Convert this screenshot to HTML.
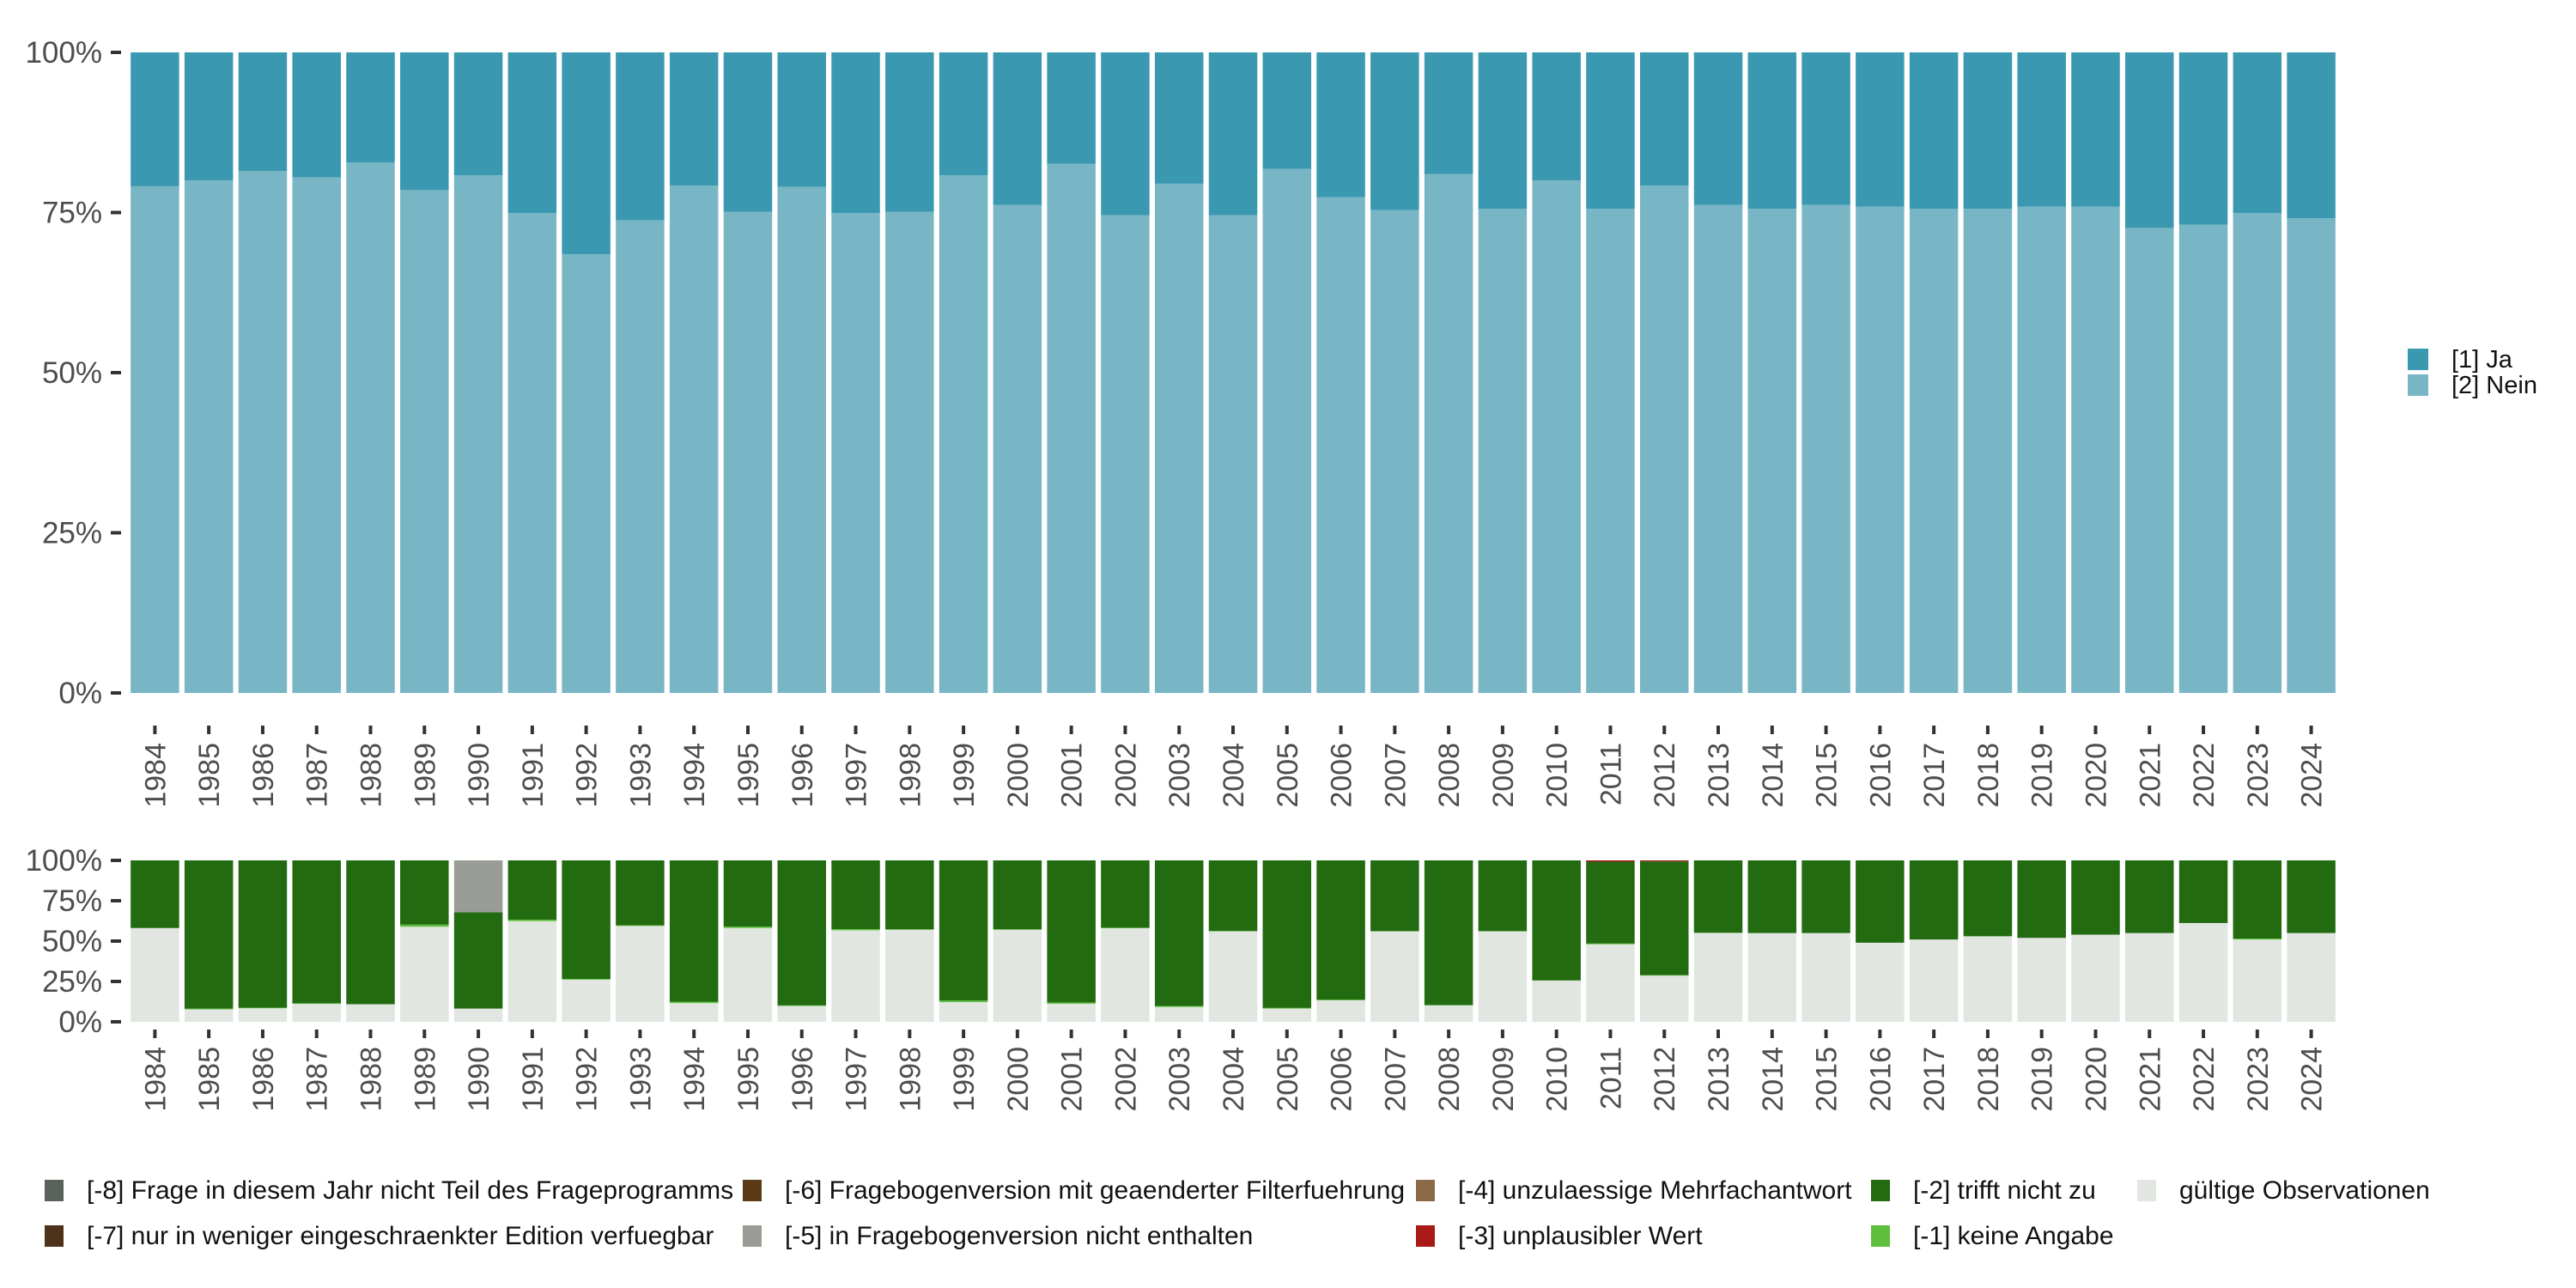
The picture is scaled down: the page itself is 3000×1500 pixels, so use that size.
<!DOCTYPE html>
<html><head><meta charset="utf-8"><style>
html,body{margin:0;padding:0;background:#fff;width:3000px;height:1500px;overflow:hidden}
svg{display:block;font-family:"Liberation Sans",sans-serif}
</style></head><body>
<svg id="chart" width="3000" height="1500" viewBox="0 0 3000 1500" xmlns="http://www.w3.org/2000/svg">
<g id="top"></g>
<g id="bottom"></g>
<g id="legends"></g>
</svg>
<script>
const years = [1984,1985,1986,1987,1988,1989,1990,1991,1992,1993,1994,1995,1996,1997,1998,1999,2000,2001,2002,2003,2004,2005,2006,2007,2008,2009,2010,2011,2012,2013,2014,2015,2016,2017,2018,2019,2020,2021,2022,2023,2024];
const neinPct = [79.1,80,81.5,80.5,82.8,78.5,80.8,74.9,68.5,73.8,79.2,75.1,79,74.9,75.1,80.8,76.2,82.6,74.6,79.5,74.6,81.8,77.4,75.4,81,75.6,80,75.6,79.2,76.2,75.6,76.2,75.9,75.6,75.6,75.9,75.9,72.6,73.1,74.9,74.1];
const validPct = [58.1,7.7,8.4,11.1,10.9,58.9,8.2,62.4,26.1,59.4,11.6,58.1,9.8,56.7,57,12.2,57,11.2,58,9.2,56,8.2,13.3,56,10.2,56,25.5,48,28.6,55,55,55,49,51,53,52,54,55,61.2,51,55];
const keineAngabePct = [0,0.5,0.4,0.4,0,1.3,0,0.9,0.5,0.4,0.9,0.9,0.4,0.7,0.3,1,0.3,0.8,0.3,0.6,0.3,0.4,0.5,0.2,0.2,0.2,0.2,0.5,0.3,0.2,0,0,0,0,0,0,0,0,0,0.6,0];
const unplausibelPct = [0,0,0,0,0,0,0,0,0,0,0,0,0,0,0,0,0,0,0,0,0,0,0,0,0,0,0,0.8,0.6,0,0,0,0,0,0,0,0,0,0,0,0];
const nichtEnthaltenPct = [0,0,0,0,0,0,32.2,0,0,0,0,0,0,0,0,0,0,0,0,0,0,0,0,0,0,0,0,0,0,0,0,0,0,0,0,0,0,0,0,0,0];
const yTicks = [0,25,50,75,100];
const yTickLabels = ["0%","25%","50%","75%","100%"];

const NS="http://www.w3.org/2000/svg";
function mk(tag,attrs,parent){const e=document.createElementNS(NS,tag);for(const k in attrs)e.setAttribute(k,attrs[k]);parent.appendChild(e);return e;}
const x0=149, slot=(2723-149)/41, bw=slot*0.9;
function xs(i){return x0+i*slot+(slot-bw)/2;}
function xc(i){return x0+i*slot+slot/2;}

function panel(g,yTop,yBot,stacksFn,name,tickY,labY){
  const ys=v=>yBot-(yBot-yTop)*v/100;
  years.forEach((yr,i)=>{
    let cum=0;
    stacksFn(i).forEach(s=>{
      if(s.v<=0)return;
      const r=mk('rect',{x:xs(i),y:ys(cum+s.v),width:bw,height:ys(cum)-ys(cum+s.v),fill:s.c},g);
      
      
      cum+=s.v;
    });
    const t=mk('line',{x1:xc(i),x2:xc(i),y1:tickY,y2:tickY+10,stroke:'#333','stroke-width':4},g);
    
    
    const tx=mk('text',{x:0,y:0,transform:`translate(${xc(i)+12},${labY}) rotate(-90)`,'text-anchor':'end','font-size':34,fill:'#4d4d4d'},g);
    tx.textContent=yr;
    
    
  });
  yTicks.forEach((v,k)=>{
    const t=mk('line',{x1:129,x2:141,y1:ys(v),y2:ys(v),stroke:'#333','stroke-width':4},g);
    
    
    const tx=mk('text',{x:119,y:ys(v)+12,'text-anchor':'end','font-size':35,fill:'#4d4d4d'},g);
    tx.textContent=yTickLabels[k];
    
    
  });
}
panel(document.getElementById('top'),61,807,i=>[{n:'nein',v:neinPct[i],c:'#78b6c5'},{n:'ja',v:100-neinPct[i],c:'#3b98b1'}],'top',845,865);
panel(document.getElementById('bottom'),1002,1190,i=>{
  const rest=100-validPct[i]-keineAngabePct[i]-unplausibelPct[i]-nichtEnthaltenPct[i];
  return [{n:'valid',v:validPct[i],c:'#e1e6e1'},{n:'keine-angabe',v:keineAngabePct[i],c:'#5dbf3c'},{n:'trifft-nicht-zu',v:rest,c:'#226b10'},{n:'unplausibel',v:unplausibelPct[i],c:'#a91a17'},{n:'nicht-enthalten',v:nichtEnthaltenPct[i],c:'#9a9d97'}];
},'bottom',1199,1219);

const lg=document.getElementById('legends');
const topLeg=[["[1] Ja","#3b98b1",406],["[2] Nein","#78b6c5",436]];
topLeg.forEach(l=>{
  const r=mk('rect',{x:2804,y:l[2],width:24,height:25,fill:l[1]},lg);
  
  
  const t=mk('text',{x:2855,y:l[2]+22,'font-size':29,fill:'#111'},lg);
  t.textContent=l[0];
  
  
});
const botLeg=[
 ["[-8] Frage in diesem Jahr nicht Teil des Frageprogramms","#5b625b",52,0],
 ["[-7] nur in weniger eingeschraenkter Edition verfuegbar","#4d3319",52,1],
 ["[-6] Fragebogenversion mit geaenderter Filterfuehrung","#5c3a16",865,0],
 ["[-5] in Fragebogenversion nicht enthalten","#9a9d97",865,1],
 ["[-4] unzulaessige Mehrfachantwort","#8b6a48",1649,0],
 ["[-3] unplausibler Wert","#a91a17",1649,1],
 ["[-2] trifft nicht zu","#226b10",2179,0],
 ["[-1] keine Angabe","#5dbf3c",2179,1],
 ["gültige Observationen","#e1e6e1",2489,0]];
botLeg.forEach(l=>{
  const y=l[3]?1427:1374;
  const r=mk('rect',{x:l[2],y:y,width:22,height:25,fill:l[1]},lg);
  
  
  const t=mk('text',{x:l[2]+49,y:y+22,'font-size':30,fill:'#111'},lg);
  t.textContent=l[0];
  
  
});
</script>
</body></html>
